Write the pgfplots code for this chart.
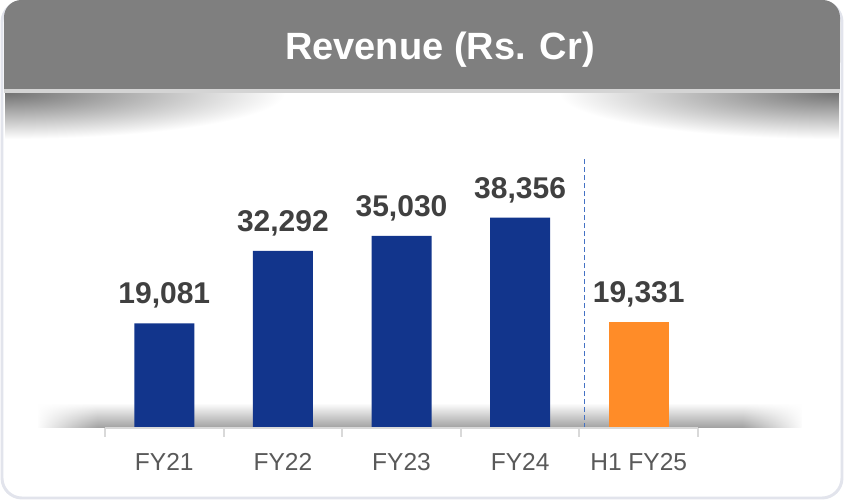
\documentclass[border=0pt]{standalone}
\usepackage{fontspec}
\setmainfont{Liberation Sans}
\usepackage{pgfplots}
\pgfplotsset{compat=1.18}
\usetikzlibrary{fadings,shadings}

\definecolor{barblue}{HTML}{12358C}
\definecolor{barorange}{HTML}{FF8C28}
\definecolor{lblgray}{HTML}{404040}
\definecolor{tickgray}{HTML}{595959}
\definecolor{headgray}{HTML}{7F7F7F}
\definecolor{framegray}{HTML}{E2E4EC}
\definecolor{axisgray}{HTML}{D9D9D9}
\definecolor{divblue}{HTML}{4472C4}

% soft ends for the shadow under the bars
\pgfdeclarehorizontalshading{shadowends}{100bp}{color(0bp)=(transparent!100); color(25bp)=(transparent!100); color(29bp)=(transparent!0); color(71bp)=(transparent!0); color(75bp)=(transparent!100); color(100bp)=(transparent!100)}
\tikzfading[name=shadowfade, shading=shadowends]

\begin{document}
\begin{tikzpicture}
% background panel, 1 unit = 1 px of the 844x500 reference
\begin{scope}[x=0.75pt,y=-0.75pt]
\useasboundingbox (0,0) rectangle (844,500);
\fill[white, rounded corners=15pt] (1,1) rectangle (843,499);
\draw[framegray, line width=2.2pt, rounded corners=15pt] (2,2) rectangle (842,498);
% header band
\fill[headgray, rounded corners=13pt] (4,0) rectangle (840,80);
\fill[headgray] (4,40) rectangle (840,90);
\fill[black!17] (4,89) rectangle (840,93);
% curved shadow under the header
\begin{scope}
\clip (5,93) rectangle (839,170);
\shade[inner color=black!55, outer color=white] (5,93) ellipse [x radius=280, y radius=46];
\shade[inner color=black!55, outer color=white] (839,93) ellipse [x radius=280, y radius=46];
\end{scope}
% shadow along the baseline
\shade[top color=white, bottom color=black!36, path fading=shadowfade] (38,403) rectangle (802,427);
\node[anchor=base, text=white, font=\fontsize{28.5}{31}\selectfont\bfseries] at (440,59) {Revenue (Rs. Cr)};
\end{scope}

\begin{axis}[
  at={(78.75pt,-321pt)}, anchor=south west,
  scale only axis, width=444.75pt, height=205.65pt,
  xmin=-0.5, xmax=4.5, ymin=0, ymax=50000,
  clip=false,
  axis line style={draw=none},
  ytick=\empty,
  xtick={0,1,2,3,4},
  xticklabels={FY21,FY22,FY23,FY24,H1 FY25},
  major tick length=0pt,
  xticklabel style={font=\fontsize{18.4}{21}\selectfont, text=tickgray, anchor=base, inner sep=0pt, yshift=-31.5pt},
  ybar, bar width=45pt, bar shift=0pt,
  nodes near coords,
  point meta=explicit symbolic,
  every node near coord/.append style={font=\fontsize{22.5}{25}\selectfont\bfseries, text=lblgray, inner sep=0pt, text depth=0pt, yshift=14.5pt},
]
\addplot[fill=barblue, draw=none] coordinates {
  (0,19081) [19,081]
  (1,32292) [32,292]
  (2,35030) [35,030]
  (3,38356) [38,356]
};
\addplot[fill=barorange, draw=none] coordinates {
  (4,19331) [19,331]
};
% divider between full years and the half year
\draw[divblue, line width=1pt, dash pattern=on 3.5pt off 2.5pt] (axis cs:3.545,0) -- (axis cs:3.545,49300);
% category axis with separators
\draw[axisgray, line width=1.5pt] (axis cs:-0.5,0) -- (axis cs:4.5,0);
\pgfplotsinvokeforeach{-0.5,0.5,1.5,2.5,3.5,4.5}{
  \draw[axisgray, line width=1.5pt] (axis cs:#1,0) -- ++(0pt,-7pt);
}
\end{axis}
\end{tikzpicture}
\end{document}
